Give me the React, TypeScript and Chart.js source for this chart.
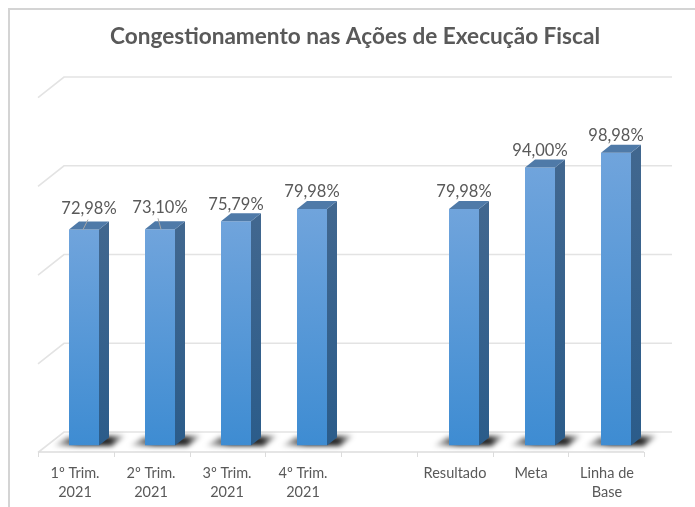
import React, { useEffect, useRef } from "react";
import { Chart, registerables } from "chart.js";

Chart.register(...registerables);

const TITLE = "Congestionamento nas Ações de Execução Fiscal";
const CATEGORIES: (string | string[])[] = [
  ["1º Trim.", "2021"],
  ["2º Trim.", "2021"],
  ["3º Trim.", "2021"],
  ["4º Trim.", "2021"],
  "",
  "Resultado",
  "Meta",
  ["Linha de", "Base"],
];
const VALUES: (number | null)[] = [72.98, 73.1, 75.79, 79.98, null, 79.98, 94.0, 98.98];
const GRID_VALUES = [0, 30, 60, 90, 120];

const FONT = "Lato, Carlito, Calibri, sans-serif";
const TEXT = "#595959";
const GRID = "#e3e3e3";
const DEPTH_X = 10;
const DEPTH_Y = 8;

const threeD = {
  id: "threeD",
  afterLayout(chart: any) {
    if (chart.titleBlock) {
      chart.titleBlock.left += 5;
      chart.titleBlock.right += 5;
    }
  },
  beforeDatasetsDraw(chart: any) {
    const { ctx, scales } = chart;
    const y = scales.y;
    const x = scales.x;
    const frontLeft = x.left - 8;
    const step = 75.75;
    const frontRight = frontLeft + step * CATEGORIES.length;
    const backLeft = x.left + 18;
    const backRight = x.right + 18;
    ctx.save();
    // frame
    ctx.strokeStyle = "#d4d4d4";
    ctx.lineWidth = 2;
    ctx.beginPath();
    ctx.moveTo(9, chart.height);
    ctx.lineTo(9, 9);
    ctx.lineTo(chart.width, 9);
    ctx.stroke();
    // wall lines
    ctx.strokeStyle = GRID;
    ctx.lineWidth = 1.6;
    GRID_VALUES.forEach((v) => {
      const py = y.getPixelForValue(v) - 13.5;
      ctx.beginPath();
      ctx.moveTo(backLeft - 26, py + 20.5);
      ctx.lineTo(backLeft, py);
      ctx.lineTo(backRight, py);
      ctx.stroke();
    });
    // floor front
    const fy = y.getPixelForValue(0) + 6.5;
    ctx.strokeStyle = "#dcdcdc";
    ctx.beginPath();
    ctx.moveTo(frontLeft, fy);
    ctx.lineTo(frontRight, fy);
    ctx.stroke();
    ctx.lineWidth = 1;
    for (let i = 0; i <= CATEGORIES.length; i++) {
      const tx = Math.round(frontLeft + step * i) + 0.5;
      ctx.beginPath();
      ctx.moveTo(tx, fy);
      ctx.lineTo(tx, fy + 5);
      ctx.stroke();
    }
    // floor shadows
    const meta = chart.getDatasetMeta(0);
    ctx.filter = "blur(2.5px)";
    meta.data.forEach((bar: any, i: number) => {
      if (VALUES[i] === null) return;
      const l = bar.x - bar.width / 2;
      const r = bar.x + bar.width / 2;
      const b = bar.base;
      const g = ctx.createLinearGradient(l - 16, 0, r + 27, 0);
      g.addColorStop(0, "rgba(0,0,0,0.05)");
      g.addColorStop(0.35, "rgba(0,0,0,0.85)");
      g.addColorStop(0.78, "rgba(0,0,0,0.85)");
      g.addColorStop(1, "rgba(0,0,0,0.05)");
      ctx.fillStyle = g;
      ctx.beginPath();
      ctx.moveTo(l - 16, b + 0.5);
      ctx.lineTo(l - 2, b - 8);
      ctx.lineTo(r + 27, b - 10);
      ctx.lineTo(r + 13, b + 0.5);
      ctx.closePath();
      ctx.fill();
    });
    ctx.filter = "none";
    ctx.restore();
  },
  afterDatasetsDraw(chart: any) {
    const { ctx } = chart;
    const meta = chart.getDatasetMeta(0);
    ctx.save();
    meta.data.forEach((bar: any, i: number) => {
      if (VALUES[i] === null) return;
      const r = bar.x + bar.width / 2;
      const l = bar.x - bar.width / 2;
      const t = bar.y;
      const b = bar.base;
      const side = ctx.createLinearGradient(0, t, 0, b);
      side.addColorStop(0, "#41678f");
      side.addColorStop(1, "#2b5c8a");
      ctx.fillStyle = side;
      ctx.beginPath();
      ctx.moveTo(r, t);
      ctx.lineTo(r + DEPTH_X, t - DEPTH_Y);
      ctx.lineTo(r + DEPTH_X, b - DEPTH_Y);
      ctx.lineTo(r, b);
      ctx.closePath();
      ctx.fill();
      ctx.fillStyle = "#4f7aa8";
      ctx.beginPath();
      ctx.moveTo(l, t);
      ctx.lineTo(l + DEPTH_X, t - DEPTH_Y);
      ctx.lineTo(r + DEPTH_X, t - DEPTH_Y);
      ctx.lineTo(r, t);
      ctx.closePath();
      ctx.fill();
    });
    // moved labels' leader lines
    ctx.strokeStyle = "#a6a6a6";
    ctx.lineWidth = 1;
    [
      [0, 4, -10, -1, 0],
      [1, -2, -11, 1, 0],
    ].forEach(([i, x1, y1, x2, y2]) => {
      const bar = meta.data[i];
      ctx.beginPath();
      ctx.moveTo(bar.x + x1, bar.y + y1);
      ctx.lineTo(bar.x + x2, bar.y + y2);
      ctx.stroke();
    });
    // data labels
    ctx.fillStyle = TEXT;
    ctx.font = `16.5px ${FONT}`;
    ctx.textAlign = "center";
    ctx.textBaseline = "middle";
    meta.data.forEach((bar: any, i: number) => {
      const v = VALUES[i];
      if (v === null) return;
      const dx = i === 0 ? 5 : 0;
      const dy = i === 0 ? -21 : i === 1 ? -22 : -17;
      ctx.fillText(v.toFixed(2).replace(".", ",") + "%", bar.x + dx, bar.y + dy);
    });
    ctx.restore();
  },
};

export default function App() {
  const ref = useRef<HTMLCanvasElement>(null);
  useEffect(() => {
    const chart = new Chart(ref.current as HTMLCanvasElement, {
      type: "bar",
      data: {
        labels: CATEGORIES as any,
        datasets: [
          {
            data: VALUES,
            barPercentage: 30 / 76,
            categoryPercentage: 1,
            backgroundColor: (c: any) => {
              const { chart: ch, dataIndex } = c;
              const v = VALUES[dataIndex];
              if (!ch.chartArea || v == null) return "#5596d6";
              const y = ch.scales.y;
              const g = ch.ctx.createLinearGradient(0, y.getPixelForValue(v), 0, y.getPixelForValue(0));
              g.addColorStop(0, "#70a4dc");
              g.addColorStop(1, "#3e8cd2");
              return g;
            },
          },
        ],
      },
      options: {
        animation: false,
        responsive: false,
        events: [],
        layout: { padding: { left: 46, right: 41, top: 0, bottom: 0 } },
        plugins: {
          legend: { display: false },
          tooltip: { enabled: false },
          title: {
            display: true,
            text: TITLE,
            color: TEXT,
            font: { family: FONT, size: 22.6, weight: "bold", lineHeight: 1.2 },
            padding: { top: 23, bottom: 40.4 },
          },
        },
        scales: {
          x: {
            grid: { display: false },
            border: { display: false },
            afterFit: (s: any) => {
              s.height = 61.5;
            },
            ticks: {
              color: TEXT,
              font: { family: FONT, size: 14.5, lineHeight: 1.31 },
              padding: 10,
              labelOffset: -9,
              maxRotation: 0,
              minRotation: 0,
              autoSkip: false,
            },
          },
          y: { display: false, min: 0, max: 120 },
        },
      },
      plugins: [threeD],
    } as any);
    return () => chart.destroy();
  }, []);
  return <canvas ref={ref} width={695} height={507} style={{ position: "fixed", left: 0, top: 0 }} />;
}
